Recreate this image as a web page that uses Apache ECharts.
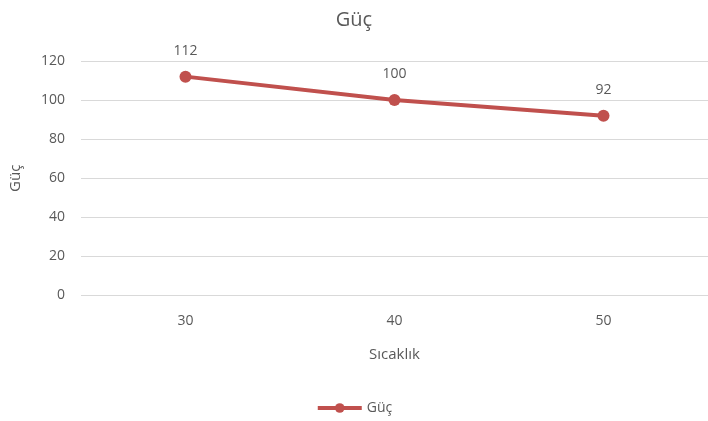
<!DOCTYPE html>
<html><head><meta charset="utf-8">
<script src="https://cdn.jsdelivr.net/npm/echarts@6/dist/echarts.min.js"></script>
<style>html,body{margin:0;padding:0;background:#fff}#c{width:708px;height:421px}</style>
</head><body><div id="c"></div>
<script>
const categories = ['30', '40', '50'];
const values = [112, 100, 92];
const seriesName = 'Güç';
const titleText = 'Güç';
const xName = 'Sıcaklık';
const yName = 'Güç';
const font = '"Open Sans", "Noto Sans", sans-serif';
const txt = '#595959';
const chart = echarts.init(document.getElementById('c'), null, {renderer: 'canvas'});
chart.setOption({
  animation: false,
  textStyle: {fontFamily: font},
  title: {text: titleText, left: 'center', top: 5, textStyle: {color: txt, fontSize: 20, fontWeight: 'normal', fontFamily: font}},
  legend: {bottom: 1, left: 'center', itemWidth: 44, itemHeight: 12, textStyle: {color: txt, fontSize: 14, fontFamily: font}, itemGap: 2,
    lineStyle: {width: 4}, data: [seriesName]},
  grid: {left: 78, right: 0, top: 61, bottom: 125.5, containLabel: false},
  xAxis: {type: 'category', data: categories, boundaryGap: true,
    name: xName, nameLocation: 'middle', nameGap: 52, nameTextStyle: {color: txt, fontSize: 15, fontFamily: font},
    axisLine: {show: false}, axisTick: {show: false},
    axisLabel: {color: txt, fontSize: 14, margin: 19, fontFamily: font}},
  yAxis: {type: 'value', min: 0, max: 120, interval: 20,
    name: yName, nameLocation: 'middle', nameGap: 58, nameRotate: 90, nameTextStyle: {color: txt, fontSize: 15, fontFamily: font},
    axisLine: {show: false}, axisTick: {show: false},
    axisLabel: {color: txt, fontSize: 14, margin: 16, fontFamily: font},
    splitLine: {lineStyle: {color: '#d9d9d9', width: 1.2}}},
  series: [{name: seriesName, type: 'line', data: values,
    symbol: 'circle', symbolSize: 12,
    itemStyle: {color: '#C0504D'}, lineStyle: {color: '#C0504D', width: 4},
    label: {show: true, position: 'top', distance: 13, color: txt, fontSize: 14, fontFamily: font}}]
});
</script></body></html>
